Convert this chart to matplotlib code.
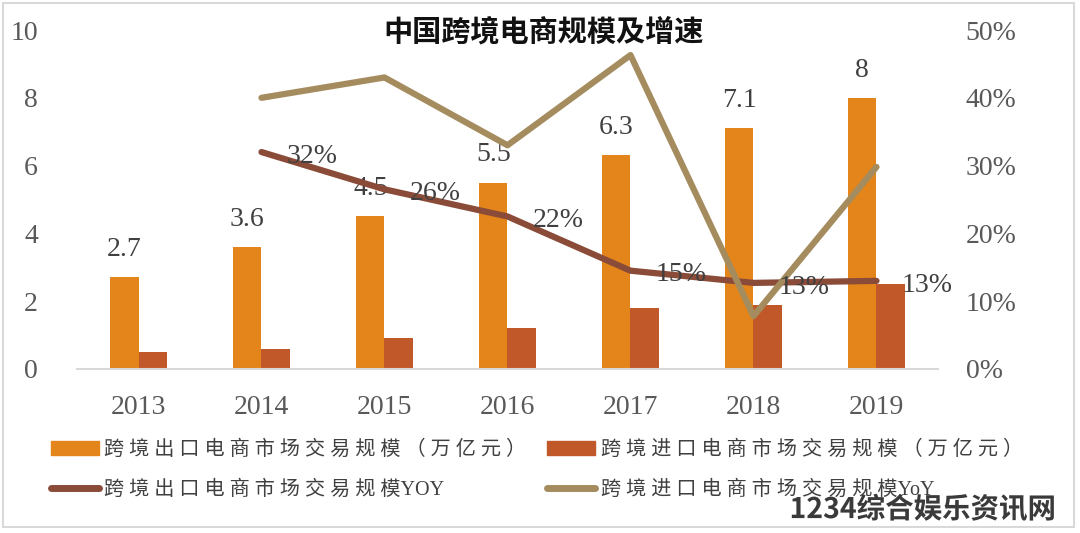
import matplotlib

matplotlib.use("Agg")
import matplotlib.pyplot as plt  # noqa: E402
from matplotlib.patches import Patch, Rectangle  # noqa: E402
from matplotlib.lines import Line2D  # noqa: E402
import matplotlib.patheffects as pe  # noqa: E402

# --- data ---
years = ["2013", "2014", "2015", "2016", "2017", "2018", "2019"]
export_scale = [2.7, 3.6, 4.5, 5.5, 6.3, 7.1, 8]
import_scale = [0.5, 0.6, 0.9, 1.2, 1.8, 1.9, 2.5]
yoy_years = ["2014", "2015", "2016", "2017", "2018", "2019"]
export_yoy = [0.32, 0.265, 0.225, 0.145, 0.127, 0.13]
export_yoy_labels = ["32%", "26%", "22%", "15%", "13%", "13%"]
import_yoy = [0.40, 0.43, 0.33, 0.463, 0.078, 0.298]

title = "中国跨境电商规模及增速"
leg_names = ["跨境出口电商市场交易规模（万亿元）", "跨境出口电商市场交易规模YOY",
             "跨境进口电商市场交易规模（万亿元）", "跨境进口电商市场交易规模YoY"]

C_EXP = "#E3851A"
C_IMP = "#C0582A"
C_EXP_L = "#8A4B38"
C_IMP_L = "#A58C5F"
TXT = "#404040"
SERIF = ["Liberation Serif", "DejaVu Serif"]
CJK = ["Noto Sans CJK SC", "DejaVu Sans"]
MIXED = ["Liberation Serif", "Noto Sans CJK SC", "DejaVu Sans"]


def spaced(name):
    # wide letter spacing on the Chinese part, Latin suffix kept tight
    head = name.rstrip("YOoy")
    tail = name[len(head):]
    return " ".join(head) + tail


fig = plt.figure(figsize=(10.8, 5.33), dpi=100)
fig.patch.set_facecolor("white")
fig.add_artist(Rectangle((0.0028, 0.0113), 0.9917, 0.983, transform=fig.transFigure,
                         fill=False, edgecolor="#d9d9d9", lw=1.5))

ax = fig.add_axes([0.0713, 0.3077, 0.7972, 0.636])
x = list(range(len(years)))
w = 0.23
ax.bar([i - w / 2 for i in x], export_scale, width=w, color=C_EXP, zorder=2)
ax.bar([i + w / 2 for i in x], import_scale, width=w, color=C_IMP, zorder=2)
for i, v in zip(x, export_scale):
    ax.annotate(f"{v:g}", (i - w / 2, v), xytext=(0, 20), textcoords="offset points",
                ha="center", va="center", fontsize=20, color=TXT, family=SERIF)

ax.set_xlim(-0.5, 6.5)
ax.set_ylim(0, 10)
ax.set_yticks([0, 2, 4, 6, 8, 10])
ax.set_xticks(x)
ax.set_xticklabels(years)
ax.tick_params(length=0, labelsize=20, labelcolor="#595959")
ax.tick_params(axis="y", pad=28)
ax.tick_params(axis="x", pad=19)
for lab in ax.get_xticklabels() + ax.get_yticklabels():
    lab.set_family(SERIF)
for s in ["top", "left", "right"]:
    ax.spines[s].set_visible(False)
ax.spines["bottom"].set_color("#d9d9d9")
ax.spines["bottom"].set_linewidth(1.5)

ax2 = ax.twinx()
xi = [years.index(y) for y in yoy_years]
ax2.plot(xi, export_yoy, color=C_EXP_L, lw=4.5, solid_capstyle="round", zorder=3)
ax2.plot(xi, import_yoy, color=C_IMP_L, lw=4.5, solid_capstyle="round", zorder=3)
for i, v, t in zip(xi, export_yoy, export_yoy_labels):
    ax2.annotate(t, (i, v), xytext=(18, -3), textcoords="offset points",
                 ha="left", va="center", fontsize=20, color=TXT, family=SERIF, zorder=5)
ax2.set_ylim(0, 0.5)
ax2.set_yticks([0, 0.1, 0.2, 0.3, 0.4, 0.5])
ax2.set_yticklabels([f"{int(round(t * 100))}%" for t in ax2.get_yticks()])
ax2.tick_params(length=0, labelsize=20, labelcolor="#595959", pad=20)
for lab in ax2.get_yticklabels():
    lab.set_family(SERIF)
for s in ax2.spines.values():
    s.set_visible(False)

fig.text(0.503, 0.94, title, ha="center", va="center", fontsize=21, fontweight="bold",
         color="#111111", family=CJK)

handles = [Patch(color=C_EXP), Line2D([], [], color=C_EXP_L, lw=5, solid_capstyle="round"),
           Patch(color=C_IMP), Line2D([], [], color=C_IMP_L, lw=5, solid_capstyle="round")]
labels = [spaced(n) for n in [leg_names[0], leg_names[1], leg_names[2], leg_names[3]]]
leg = fig.legend(handles, labels, ncol=2, loc="upper left", bbox_to_anchor=(0.03, 0.208),
                 frameon=False, handlelength=2.4, handletextpad=0.25, columnspacing=1.05,
                 labelspacing=1.05, prop={"family": MIXED, "size": 14.5})
for t in leg.get_texts():
    t.set_color("#404040")

fig.text(0.978, 0.043, "1234综合娱乐资讯网", ha="right", va="center", fontsize=20.5,
         fontweight="bold", color="#3a3a3a", family=CJK,
         path_effects=[pe.withStroke(linewidth=3, foreground="white")])

fig.savefig("out.png", dpi=100, facecolor="white")
